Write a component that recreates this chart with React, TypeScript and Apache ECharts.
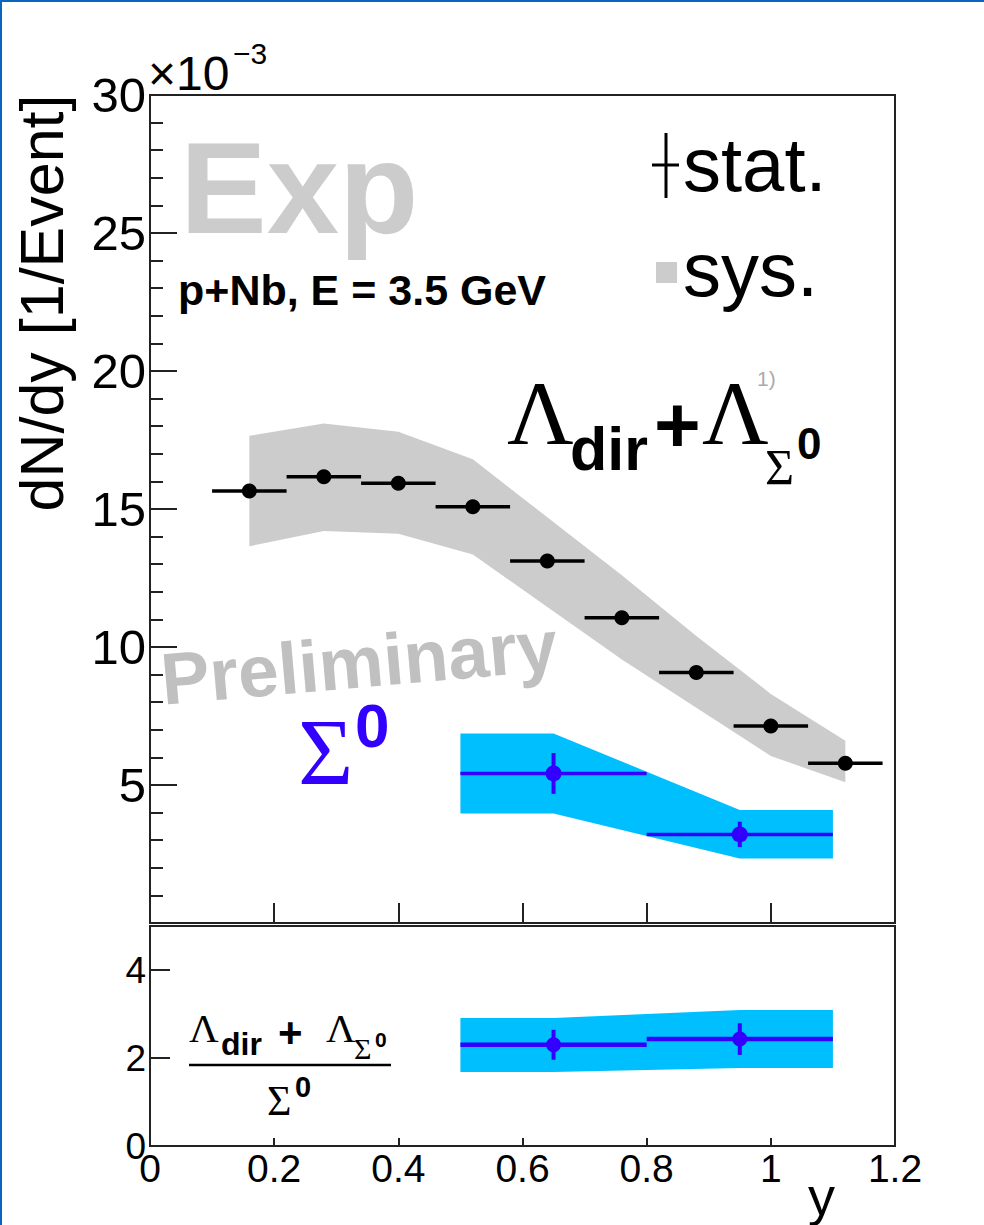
import React, { useEffect, useRef } from "react";
import * as echarts from "echarts";

// ---- data (dN/dy in units of 1e-3) ----
const lamX = [0.16, 0.28, 0.4, 0.52, 0.64, 0.76, 0.88, 1.0, 1.12];
const lamXLo = [0.1, 0.22, 0.34, 0.46, 0.58, 0.7, 0.82, 0.94, 1.06];
const lamXHi = [0.22, 0.34, 0.46, 0.58, 0.7, 0.82, 0.94, 1.06, 1.18];
const lamY = [15.65, 16.17, 15.93, 15.08, 13.12, 11.06, 9.08, 7.14, 5.79];
const lamStat = [0.12, 0.12, 0.12, 0.12, 0.12, 0.12, 0.12, 0.12, 0.12];
const lamSysHi = [17.65, 18.1, 17.8, 16.8, 14.7, 12.6, 10.4, 8.3, 6.6];
const lamSysLo = [13.65, 14.2, 14.1, 13.35, 11.45, 9.55, 7.8, 6.05, 5.1];

const sigX = [0.65, 0.95];
const sigXLo = [0.5, 0.8];
const sigXHi = [0.8, 1.1];
const sigY = [5.42, 3.21];
const sigStat = [0.74, 0.46];
const sigSysX = [0.5, 0.65, 0.95, 1.1];
const sigSysHi = [6.87, 6.87, 4.09, 4.09];
const sigSysLo = [3.97, 3.97, 2.34, 2.34];

const ratioY = [2.3, 2.43];
const ratioStat = [0.34, 0.36];
const ratioSysHi = [2.91, 2.91, 3.09, 3.09];
const ratioSysLo = [1.68, 1.68, 1.77, 1.77];

const xTickLabels = ["0", "0.2", "0.4", "0.6", "0.8", "1", "1.2"];

const SANS = '"Liberation Sans", Arial, Helvetica, sans-serif';
const SERIF = '"Liberation Serif", "Times New Roman", serif';
const FRAME = "#222";
const BLUE = "#3300ff";
const SKY = "#00bfff";
const GREY = "#cccccc";

function bandSeries(xs: number[], hi: number[], lo: number[], color: string, ai: number) {
  return {
    type: "custom",
    xAxisIndex: ai,
    yAxisIndex: ai,
    silent: true,
    z: 2,
    data: xs.map((x, i) => [x, hi[i], lo[i]]),
    renderItem: (params: any, api: any) => {
      if (params.dataIndex !== 0) return { type: "group", children: [] };
      const pts: number[][] = [];
      for (let i = 0; i < xs.length; i++) pts.push(api.coord([xs[i], hi[i]]));
      for (let i = xs.length - 1; i >= 0; i--) pts.push(api.coord([xs[i], lo[i]]));
      return { type: "polygon", shape: { points: pts }, style: { fill: color } };
    },
  };
}

function pointSeries(
  xs: number[], ys: number[], xl: number[], xh: number[], err: number[],
  color: string, r: number, lw: number, vlw: number, ai: number
) {
  return {
    type: "custom",
    xAxisIndex: ai,
    yAxisIndex: ai,
    silent: true,
    z: 5,
    data: xs.map((x, i) => [x, ys[i], xl[i], xh[i], err[i]]),
    renderItem: (params: any, api: any) => {
      const x = api.value(0);
      const y = api.value(1);
      const c = api.coord([x, y]);
      const l = api.coord([api.value(2), y]);
      const h = api.coord([api.value(3), y]);
      const t = api.coord([x, y + api.value(4)]);
      const b = api.coord([x, y - api.value(4)]);
      return {
        type: "group",
        children: [
          { type: "line", shape: { x1: l[0], y1: l[1], x2: h[0], y2: h[1] }, style: { stroke: color, lineWidth: lw } },
          { type: "line", shape: { x1: t[0], y1: t[1], x2: b[0], y2: b[1] }, style: { stroke: color, lineWidth: vlw } },
          { type: "circle", shape: { cx: c[0], cy: c[1], r }, style: { fill: color } },
        ],
      };
    },
  };
}

function txt(text: string, x: number, base: number, size: number, opt: any = {}) {
  return {
    type: "text",
    x,
    y: base - 0.34 * size,
    silent: true,
    z: opt.z ?? 20,
    style: {
      text,
      x: 0,
      y: 0,
      fill: opt.color || "#000",
      fontSize: size,
      fontFamily: opt.serif ? SERIF : SANS,
      fontWeight: opt.bold ? "bold" : "normal",
      align: "left",
      verticalAlign: "middle",
    },
  };
}

export default function App() {
  const ref = useRef<HTMLDivElement>(null);
  useEffect(() => {
    if (!ref.current) return;
    const chart = echarts.init(ref.current, undefined, { renderer: "svg" });
    const axisLine = { show: true, lineStyle: { color: FRAME, width: 2 } };
    const option: any = {
      animation: false,
      backgroundColor: "#fff",
      grid: [
        { left: 150, top: 95, width: 745, height: 828, show: true, borderColor: FRAME, borderWidth: 2, backgroundColor: "transparent" },
        { left: 150, top: 926, width: 745, height: 220, show: true, borderColor: FRAME, borderWidth: 2, backgroundColor: "transparent" },
      ],
      xAxis: [
        {
          type: "value", gridIndex: 0, min: 0, max: 1.2, interval: 0.2,
          axisLine, axisLabel: { show: false },
          axisTick: { show: true, inside: true, length: 20, lineStyle: { color: FRAME, width: 2 } },
          splitLine: { show: false },
        },
        {
          type: "value", gridIndex: 1, min: 0, max: 1.2, interval: 0.2,
          axisLine,
          axisLabel: {
            show: true, margin: 3, fontSize: 39, fontFamily: SANS, color: "#000",
            formatter: (v: number) => xTickLabels[Math.round(v / 0.2)] ?? "",
          },
          axisTick: { show: true, inside: true, length: 8, lineStyle: { color: FRAME, width: 2 } },
          splitLine: { show: false },
        },
      ],
      yAxis: [
        {
          type: "value", gridIndex: 0, min: 0, max: 30, interval: 5,
          axisLine,
          axisLabel: { show: true, showMinLabel: false, margin: 4, fontSize: 49, fontFamily: SANS, color: "#000" },
          axisTick: { show: true, inside: true, length: 27, lineStyle: { color: FRAME, width: 2 } },
          minorTick: { show: true, splitNumber: 5, length: 13, lineStyle: { color: FRAME, width: 2 } },
          splitLine: { show: false },
          minorSplitLine: { show: false },
        },
        {
          type: "value", gridIndex: 1, min: 0, max: 5, interval: 2,
          axisLine,
          axisLabel: { show: true, showMaxLabel: false, margin: 4, fontSize: 37, fontFamily: SANS, color: "#000" },
          axisTick: { show: true, inside: true, length: 20, lineStyle: { color: FRAME, width: 2 } },
          splitLine: { show: false },
        },
      ],
      series: [
        bandSeries(lamX, lamSysHi, lamSysLo, GREY, 0),
        bandSeries(sigSysX, sigSysHi, sigSysLo, SKY, 0),
        pointSeries(lamX, lamY, lamXLo, lamXHi, lamStat, "#000", 7.5, 3.5, 3.5, 0),
        pointSeries(sigX, sigY, sigXLo, sigXHi, sigStat, BLUE, 8, 3.5, 4, 0),
        bandSeries(sigSysX, ratioSysHi, ratioSysLo, SKY, 1),
        pointSeries(sigX, ratioY, sigXLo, sigXHi, ratioStat, BLUE, 7.5, 4.5, 4, 1),
      ],
      graphic: {
        elements: [
          // page border
          { type: "rect", shape: { x: 0, y: 0, width: 984, height: 2 }, style: { fill: "#0a64c0" }, silent: true, z: 30 },
          { type: "rect", shape: { x: 0, y: 0, width: 2, height: 1225 }, style: { fill: "#0a64c0" }, silent: true, z: 30 },
          // axis multiplier
          txt("\u00d710", 148, 90, 48),
          txt("\u22123", 233, 64, 30),
          // y title
          {
            type: "text", x: 42, y: 303, rotation: Math.PI / 2, silent: true, z: 20,
            style: { text: "dN/dy [1/Event]", x: 0, y: 0, fill: "#000", fontSize: 61, fontFamily: SANS, align: "center", verticalAlign: "middle" },
          },
          // x title
          txt("y", 808, 1214, 54),
          // watermark
          txt("Exp", 180, 232, 130, { bold: true, color: GREY, z: 1 }),
          {
            type: "text", x: 359, y: 662, rotation: (5 * Math.PI) / 180, silent: true, z: 1,
            style: { text: "Preliminary", x: 0, y: 0, fill: "#c0c0c0", fontSize: 73, fontWeight: "bold", fontFamily: SANS, align: "center", verticalAlign: "middle" },
          },
          txt("p+Nb, E = 3.5 GeV", 178, 305, 43, { bold: true }),
          // legend
          { type: "line", shape: { x1: 666, y1: 133, x2: 666, y2: 198 }, style: { stroke: "#000", lineWidth: 3 }, silent: true, z: 20 },
          { type: "line", shape: { x1: 652, y1: 165, x2: 679, y2: 165 }, style: { stroke: "#000", lineWidth: 3 }, silent: true, z: 20 },
          txt("stat.", 683, 190, 76),
          { type: "rect", shape: { x: 656, y: 262, width: 21, height: 21 }, style: { fill: GREY }, silent: true, z: 20 },
          txt("sys.", 683, 295, 76),
          // Lambda label
          txt("\u039b", 507, 444, 92, { serif: true }),
          txt("dir", 570, 470, 61, { bold: true }),
          txt("+", 654, 452, 80, { bold: true }),
          txt("\u039b", 702, 444, 92, { serif: true }),
          txt("\u03a3", 765, 484, 50, { serif: true }),
          txt("0", 797, 458, 44, { bold: true }),
          txt("1)", 757, 386, 21, { color: "#aaaaaa" }),
          // Sigma0 label
          txt("\u03a3", 298, 785, 95, { serif: true, color: BLUE }),
          txt("0", 355, 747, 62, { bold: true, color: BLUE }),
          // ratio label
          txt("\u039b", 189, 1042, 41, { serif: true }),
          txt("dir", 221, 1055, 32, { bold: true }),
          txt("+", 278, 1047, 42, { bold: true }),
          txt("\u039b", 326, 1042, 41, { serif: true }),
          txt("\u03a3", 354, 1059, 30, { serif: true }),
          txt("0", 375, 1047, 21, { bold: true }),
          { type: "line", shape: { x1: 189, y1: 1065, x2: 391, y2: 1065 }, style: { stroke: "#000", lineWidth: 2.5 }, silent: true, z: 20 },
          txt("\u03a3", 267, 1115, 42, { serif: true }),
          txt("0", 295, 1097, 29, { bold: true }),
        ],
      },
    };
    chart.setOption(option);
    return () => chart.dispose();
  }, []);
  return (
    <div
      ref={ref}
      style={{ position: "absolute", left: 0, top: 0, width: 984, height: 1225, background: "#fff" }}
    />
  );
}
